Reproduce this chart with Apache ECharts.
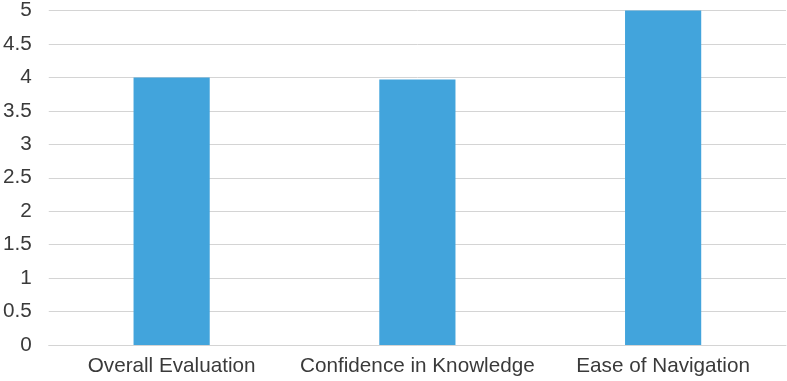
<!DOCTYPE html>
<html>
<head>
<meta charset="utf-8">
<script src="https://cdn.jsdelivr.net/npm/echarts@6/dist/echarts.min.js"></script>
<style>html,body{margin:0;padding:0;background:#fff}#c{width:787px;height:381px}</style>
</head>
<body>
<div id="c"></div>
<script>
const categories = ["Overall Evaluation", "Confidence in Knowledge", "Ease of Navigation"];
const values = [4.0, 3.97, 5.0];
const yTicks = [0, 0.5, 1, 1.5, 2, 2.5, 3, 3.5, 4, 4.5, 5];

const chart = echarts.init(document.getElementById('c'), null, {renderer: 'canvas'});
chart.setOption({
  animation: false,
  grid: {left: 47, right: 1, top: 8, bottom: 36, containLabel: false},
  xAxis: {
    type: 'category',
    data: categories,
    axisLine: {show: true, lineStyle: {color: '#d4d4d4', width: 1}},
    axisTick: {show: false},
    axisLabel: {color: '#3a3a3a', fontSize: 20.7, fontFamily: 'Liberation Sans, Arial, sans-serif', margin: 11, interval: 0}
  },
  yAxis: {
    type: 'value',
    min: yTicks[0],
    max: yTicks[yTicks.length - 1],
    interval: 0.5,
    axisLine: {show: false},
    axisTick: {show: false},
    splitLine: {lineStyle: {color: '#d4d4d4', width: 1}},
    axisLabel: {color: '#3a3a3a', fontSize: 20.7, fontFamily: 'Liberation Sans, Arial, sans-serif', margin: 17}
  },
  series: [{
    type: 'bar',
    data: values,
    barWidth: '31%',
    itemStyle: {color: '#42A4DC'}
  }]
});
</script>
</body>
</html>
